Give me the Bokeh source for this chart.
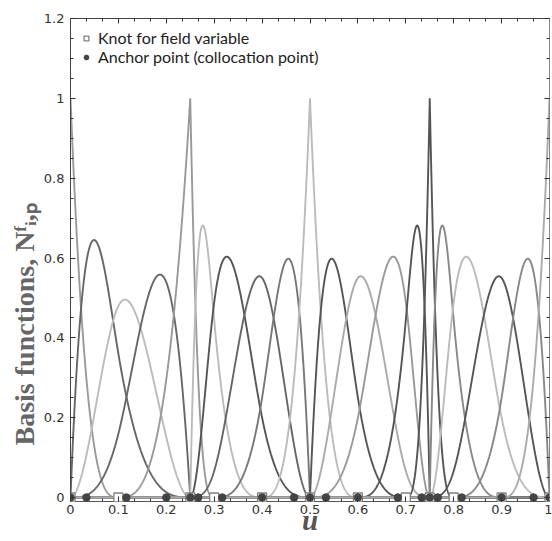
import numpy as np
from bokeh.plotting import figure
from bokeh.models import (Range1d, LinearAxis, SingleIntervalTicker, CustomJSTickFormatter,
                          Legend, LegendItem, Title)
from bokeh.embed import file_html
from bokeh.resources import INLINE

# ---- data ----
degree = 3
knot_vector = [0, 0, 0, 0, 0.1, 0.25, 0.25, 0.25, 0.3, 0.4, 0.5, 0.5, 0.5,
               0.6, 0.7, 0.75, 0.75, 0.75, 0.8, 0.9, 1, 1, 1, 1]
knot_marks = [0, 0.1, 0.25, 0.3, 0.4, 0.5, 0.6, 0.7, 0.75, 0.8, 0.9, 1]
anchor_points = [0, 0.0333, 0.1167, 0.2, 0.25, 0.2667, 0.3167, 0.4, 0.4667, 0.5,
                 0.5333, 0.6, 0.6833, 0.7333, 0.75, 0.7667, 0.8167, 0.9, 0.9667, 1]
curve_colors = ["#9a9a9a", "#666666", "#bbbbbb", "#666666", "#999999",
                "#bbbbbb", "#555555", "#666666", "#777777", "#bbbbbb",
                "#555555", "#aaaaaa", "#999999", "#555555", "#555555",
                "#888888", "#bbbbbb", "#555555", "#888888", "#aaaaaa"]
legend_labels = ["Knot for field variable", "Anchor point (collocation point)"]
y_title = "Basis functions, N\u1da0\u1d62,\u209a"
x_title = "u"


def basis(t, p, u):
    t = np.asarray(t, float)
    n = len(t) - 1
    N = np.zeros((n, len(u)))
    for i in range(n):
        N[i] = ((u >= t[i]) & (u < t[i + 1])).astype(float)
    last = max(i for i in range(n) if t[i] < t[i + 1])
    N[last, u >= t[-1]] = 1.0
    for k in range(1, p + 1):
        M = np.zeros((n - k, len(u)))
        for i in range(n - k):
            a = 0.0
            d1 = t[i + k] - t[i]
            if d1 > 0:
                a = (u - t[i]) / d1 * N[i]
            b = 0.0
            d2 = t[i + k + 1] - t[i + 1]
            if d2 > 0:
                b = (t[i + k + 1] - u) / d2 * N[i + 1]
            M[i] = a + b
        N = M
    return N


u = np.unique(np.concatenate([np.linspace(0, 1, 4001), knot_vector]))
B = basis(knot_vector, degree, u)

p = figure(width=552, height=541, output_backend="svg", toolbar_location=None,
           x_range=Range1d(0, 1), y_range=Range1d(-0.01, 1.2001),
           min_border_left=70, min_border_right=3, min_border_top=18, min_border_bottom=40,
           background_fill_color="white", border_fill_color="white",
           x_axis_location=None, y_axis_location=None)
p.grid.visible = False
p.outline_line_color = "#555555"

fmt = CustomJSTickFormatter(code="return Number(tick.toFixed(2)).toString();")
blank = CustomJSTickFormatter(code="return '';")


def style_axis(ax, labels=True):
    ax.axis_line_color = "#444444"
    ax.major_tick_in = 5
    ax.major_tick_out = 0
    ax.minor_tick_in = 3
    ax.minor_tick_out = 0
    ax.major_tick_line_color = "#333333"
    ax.minor_tick_line_color = "#333333"
    ax.major_label_text_font = "DejaVu Sans"
    ax.major_label_text_font_size = "13px"
    ax.major_label_text_color = "#333333"
    ax.major_label_standoff = 5
    if not labels:
        ax.formatter = blank
        ax.major_label_text_font_size = "0px"
        ax.major_label_standoff = 0


xb = LinearAxis(ticker=SingleIntervalTicker(interval=0.1, num_minor_ticks=3), formatter=fmt)
style_axis(xb)
xb.major_label_standoff = 3
xb.axis_line_alpha = 0
xb.axis_label = x_title
xb.axis_label_text_font = "Liberation Serif"
xb.axis_label_text_font_style = "bold italic"
xb.axis_label_text_font_size = "29px"
xb.axis_label_text_color = "#555555"
xb.axis_label_standoff = -13
p.add_layout(xb, "below")

xt = LinearAxis(ticker=SingleIntervalTicker(interval=0.1, num_minor_ticks=3))
style_axis(xt, labels=False)
p.add_layout(xt, "above")

yl = LinearAxis(ticker=SingleIntervalTicker(interval=0.2, num_minor_ticks=4), formatter=fmt)
style_axis(yl)
yl.major_label_standoff = 6
p.add_layout(yl, "left")

yr = LinearAxis(ticker=SingleIntervalTicker(interval=0.2, num_minor_ticks=4))
style_axis(yr, labels=False)
yr.axis_line_color = "#888888"
p.add_layout(yr, "right")

p.add_layout(Title(text=y_title, align="left", offset=56, standoff=2,
                   text_font="Liberation Serif", text_font_style="bold",
                   text_font_size="28px", text_color="#666666"), "left")

for i in range(B.shape[0]):
    p.line(u, B[i], line_color=curve_colors[i], line_width=1.9)

sq = p.scatter(knot_marks, [0] * len(knot_marks), marker="square", size=9,
               line_color="#808080", fill_color="white", line_width=1.3)
ci = p.scatter(anchor_points, [0] * len(anchor_points), marker="circle", size=7.5,
               line_color="#444444", fill_color="#444444")

leg = Legend(items=[LegendItem(label=legend_labels[0], renderers=[sq]),
                    LegendItem(label=legend_labels[1], renderers=[ci])],
             location="top_left", border_line_alpha=0, background_fill_alpha=0,
             label_text_font="Lato", label_text_font_size="16px", label_text_color="#222222",
             glyph_width=12, glyph_height=16, label_height=16, spacing=0, padding=10,
             margin=0, label_standoff=6)
p.add_layout(leg, "center")

open("out.html", "w").write(file_html(p, INLINE))
